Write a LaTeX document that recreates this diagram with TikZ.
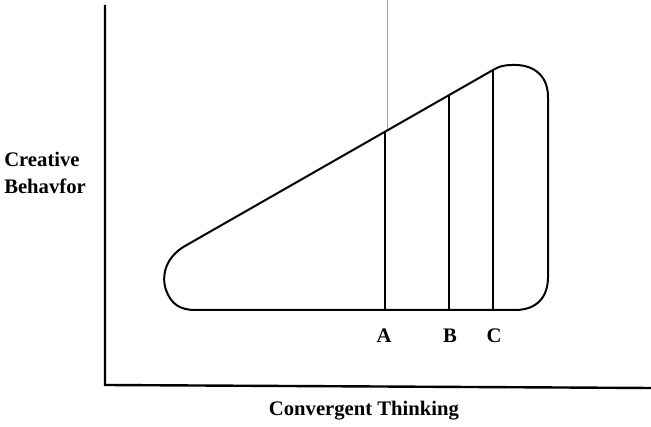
\documentclass[tikz,border=0pt]{standalone}
\usepackage{fontspec}
\setmainfont{Liberation Serif}
\begin{document}
\begin{tikzpicture}[x=0.75pt,y=-0.75pt,
  axis/.style={line width=1.8pt},
  outline/.style={line width=1.5pt,line join=round},
  divider/.style={line width=1.4pt},
  lbl/.style={font=\fontsize{15.5}{17}\selectfont\bfseries, inner sep=0pt},
  fold/.style={line width=0.6pt, gray!70}]
\useasboundingbox (0,0) rectangle (651,427);
% axes
\coordinate (ytop) at (105,5);
\coordinate (origin) at (105,385);
\coordinate (xend) at (651,388);
\draw[axis] (ytop) -- (origin) -- (xend);
% faint scan line
\coordinate (foldtop) at (387,0);
\coordinate (foldbot) at (387,131);
\draw[fold] (foldtop) -- (foldbot);
% shape
\coordinate (bl) at (195,310);
\coordinate (br) at (515,310);
\coordinate (rs) at (548,277);
\coordinate (rt) at (548,97);
\coordinate (tp) at (493,70);
\coordinate (lt) at (185,246);
\draw[outline] (bl) -- (br)
  .. controls (537,310) and (548,297) .. (rs)
  -- (rt)
  .. controls (548,75) and (533,64) .. (512,65)
  .. controls (503,65) and (498,67) .. (tp)
  -- (lt)
  .. controls (166,257) and (161,275) .. (166,290)
  .. controls (171,304) and (180,310) .. (bl);
% dividers
\coordinate (Ab) at (385,310); \coordinate (At) at (385,131);
\coordinate (Bb) at (449,310); \coordinate (Bt) at (449,95);
\coordinate (Cb) at (493,310); \coordinate (Ct) at (493,70);
\draw[divider] (Ab) -- (At);
\draw[divider] (Bb) -- (Bt);
\draw[divider] (Cb) -- (Ct);
% labels
\node[lbl] (A) at (384,336) {A};
\node[lbl] (B) at (450,336) {B};
\node[lbl] (C) at (494,336) {C};
\node[lbl, align=left, anchor=west] (ylab) at (4,173) {Creative\\[3pt]Behavfor};
\node[lbl] (xlab) at (364,411) {Convergent Thinking};
\end{tikzpicture}
\end{document}
